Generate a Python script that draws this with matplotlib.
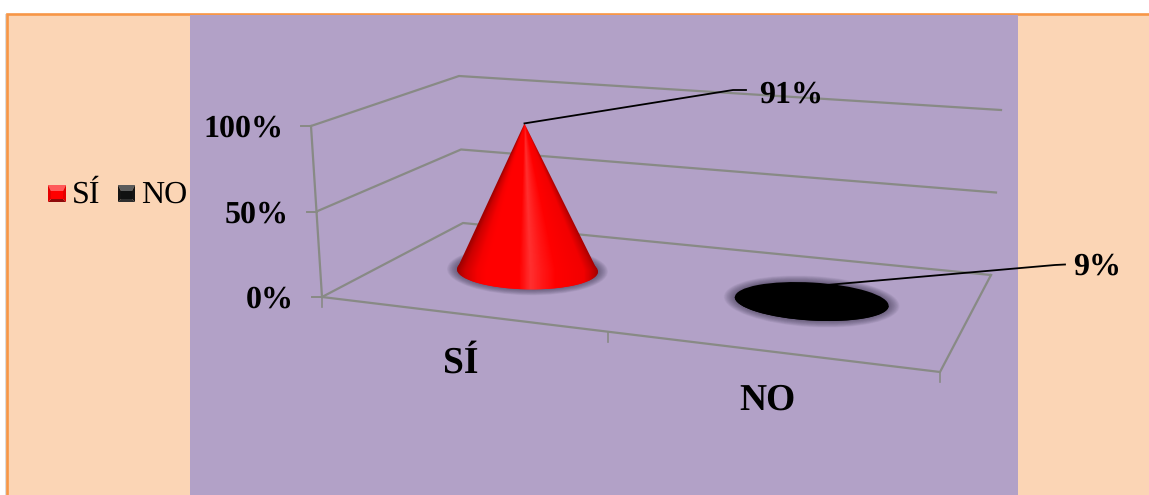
import numpy as np
import matplotlib
matplotlib.use('Agg')
import matplotlib.pyplot as plt
from matplotlib.colors import LinearSegmentedColormap
from matplotlib.patches import Ellipse, Polygon, Rectangle

categories = ['SÍ', 'NO']
values = [91, 9]
value_labels = ['91%', '9%']
y_ticks = [0, 50, 100]
y_tick_labels = ['0%', '50%', '100%']

plt.rcParams['font.family'] = ['Liberation Serif', 'DejaVu Serif']
plt.rcParams['text.hinting'] = 'none'

W, H = 1149, 495
fig = plt.figure(figsize=(W / 100, H / 100), dpi=100)
ax = fig.add_axes([0, 0, 1, 1])

# floor corners of the fake 3d box and how far one percent moves a point
FL, FR = np.array([322., 297.]), np.array([940., 372.])
BL, BR = np.array([463., 223.]), np.array([991., 275.])
UP_FL, UP_FR = np.array([-.11, -1.71]), np.array([.10, -1.85])
UP_BL, UP_BR = np.array([-.04, -1.47]), np.array([.10, -1.65])


def project(u, v, level=0):
    front = FL + (FR - FL) * u
    back = BL + (BR - BL) * u
    up_f = UP_FL + (UP_FR - UP_FL) * u
    up_b = UP_BL + (UP_BR - UP_BL) * u
    return front + (back - front) * v + (up_f + (up_b - up_f) * v) * level


GRID = '#888a85'
PANEL = '#FBD5B5'
PLOT = '#B2A1C7'

# page and panels
ax.add_patch(Rectangle((5, 14), 2, 490, fc='#dcdcdc', ec='none', zorder=0))
ax.add_patch(Rectangle((7, 14), 1160, 500, fc=PANEL, ec='#F79646', lw=1.9, zorder=1))
ax.add_patch(Rectangle((190, 15.2), 828, 490, fc=PLOT, ec='none', zorder=1.5))

# walls and floor
for t, lab in zip(y_ticks, y_tick_labels):
    a, b, c = project(0, 0, t), project(0, 1, t), project(1, 1, t)
    ax.plot([a[0], b[0], c[0]], [a[1], b[1], c[1]], color=GRID, lw=1.6, zorder=2)
    ax.plot([a[0] - 10, a[0]], [a[1], a[1]], color=GRID, lw=1.4, zorder=2)
    ax.text(a[0] - 28, a[1] + 11, lab, ha='right', va='baseline', fontsize=23,
            fontweight='bold', color='black', zorder=6)
corners = [project(0, 0, 100), project(0, 0), project(1, 0), project(1, 1)]
ax.plot([p[0] for p in corners], [p[1] for p in corners], color=GRID, lw=1.6, zorder=2)
for u in [0, 0.463, 1]:
    p = project(u, 0)
    ax.plot([p[0], p[0]], [p[1], p[1] + 10], color=GRID, lw=1.2, zorder=2)

# cones
cone_u = [0.225, 0.725]
cone_v = 0.55
cone_a = [70.5, 77]
cone_b = [19, 19]
cone_tilt = [1.0, 3.3]
red_cmap = LinearSegmentedColormap.from_list('cone', [
    (0, '#a00000'), (.05, '#cc0000'), (.14, '#f50000'), (.2, '#ff0000'), (.44, '#ff0000'),
    (.52, '#ff3030'), (.6, '#ff1818'), (.7, '#ff0000'), (.9, '#f20000'), (.96, '#c80000'),
    (1, '#a00000')])
black_cmap = LinearSegmentedColormap.from_list('cone2', ['#000000', '#000000'])
cone_cmaps = [red_cmap, black_cmap]
halo_pad = [10, 11]
tops = []

for i, val in enumerate(values):
    cx, cy = project(cone_u[i], cone_v)
    ax_, ay = project(cone_u[i], cone_v, val)
    tops.append((ax_, ay))
    a, b, tilt = cone_a[i], cone_b[i], cone_tilt[i]
    # soft shadow under the base
    n = 14
    for k in range(n):
        g = halo_pad[i] * (1 - k / n)
        ax.add_patch(Ellipse((cx, cy), 2 * (a + g), 2 * (b + g * .6), angle=tilt,
                             fc='#3c3450', ec='none', alpha=.05, zorder=3))
    top_y = min(ay, cy - b) - 6
    yy, xx = np.mgrid[top_y:cy + b + 6:0.5, cx - a - 3:cx + a + 3:0.5]
    frac = np.clip((yy - ay) / (cy - ay), .02, 1)
    s = np.clip((xx - (ax_ + (cx - ax_) * frac)) / (a * frac), -1, 1)
    extent = [cx - a - 3, cx + a + 3, cy + b + 6, top_y]
    t = np.linspace(np.pi, 0, 60)
    tan = np.tan(np.radians(tilt))
    low = np.c_[cx + a * np.cos(t), cy + b * np.sin(t) + tan * a * np.cos(t)]
    outline = Polygon(np.vstack([[ax_, ay], low]), closed=True, transform=ax.transData)
    base = Ellipse((cx, cy), 2 * a, 2 * b, angle=tilt, transform=ax.transData)
    for clip in [outline, base]:
        ax.add_patch(clip)
        clip.set_visible(False)
        im = ax.imshow((s + 1) / 2, cmap=cone_cmaps[i], vmin=0, vmax=1, extent=extent,
                       aspect='auto', interpolation='bilinear', zorder=4)
        im.set_clip_path(clip)

# leader lines and value labels
knees = [[(733, 90), (746, 90)], [(1055, 265), (1065, 264.5)]]
label_pos = [(759, 103), (1073, 275)]
for i, lab in enumerate(value_labels):
    pts = [tops[i]] + knees[i]
    ax.plot([p[0] for p in pts], [p[1] for p in pts], color='black', lw=1.3, zorder=3.5 if i else 5)
    ax.text(label_pos[i][0], label_pos[i][1], lab, ha='left', va='baseline', fontsize=23,
            fontweight='bold', color='black', zorder=6)

# category labels
cat_pos = [(460.5, 373), (767.5, 410)]
for lab, pos in zip(categories, cat_pos):
    ax.text(pos[0], pos[1], lab, ha='center', va='baseline', fontsize=27,
            fontweight='bold', color='black', zorder=6)

# legend
swatch_x = [48, 118]
swatch_w = [18, 17]
swatch_cols = [
    ('#ff5a5a', '#e60000', '#e60000', '#8f0a0a', '#ff0000'),
    ('#5c5c5c', '#141414', '#141414', '#2e2e2e', '#111111'),
]
legend_text_x = [72, 141]
for i, lab in enumerate(categories):
    x0, y0, w, h = swatch_x[i], 185, swatch_w[i], 17
    top, left, right, bottom, mid = swatch_cols[i]
    dx, dy = 3, 6
    x1, y1 = x0 + w, y0 + h
    inner = [(x0 + dx, y0 + dy), (x1 - dx, y0 + dy), (x1 - dx, y1 - 3), (x0 + dx, y1 - 3)]
    ax.add_patch(Polygon([(x0, y0), (x1, y0), inner[1], inner[0]], fc=top, ec='none', zorder=5))
    ax.add_patch(Polygon([(x1, y0), (x1, y1), inner[2], inner[1]], fc=right, ec='none', zorder=5))
    ax.add_patch(Polygon([(x1, y1), (x0, y1), inner[3], inner[2]], fc=bottom, ec='none', zorder=5))
    ax.add_patch(Polygon([(x0, y1), (x0, y0), inner[0], inner[3]], fc=left, ec='none', zorder=5))
    ax.add_patch(Polygon(inner, fc=mid, ec='none', zorder=5))
    ax.text(legend_text_x[i], 203, lab, ha='left', va='baseline', fontsize=23,
            color='black', zorder=6)

ax.set_xlim(0, W)
ax.set_ylim(H, 0)
ax.axis('off')
fig.savefig('out.png', dpi=100, facecolor='white')
